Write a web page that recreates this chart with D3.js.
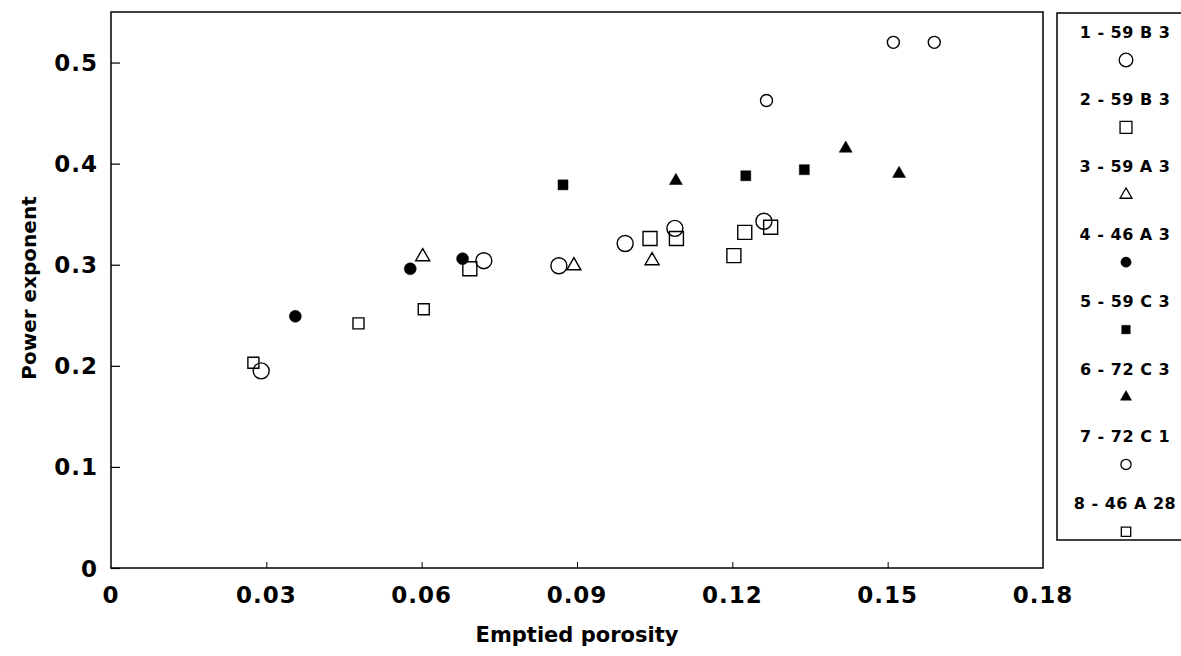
<!DOCTYPE html>
<html>
<head>
<meta charset="utf-8">
<script src="https://cdn.jsdelivr.net/npm/d3@7"></script>
<style>
  body { margin: 0; background: #fff; }
  svg { display: block; }
  text { font-family: "DejaVu Sans", sans-serif; font-weight: bold; fill: #000; }
</style>
</head>
<body>
<svg id="chart" width="1181" height="656"></svg>
<script>
// Series labels as printed in the legend
const seriesLabels = ["1 - 59 B 3", "2 - 59 B 3", "3 - 59 A 3", "4 - 46 A 3",
                      "5 - 59 C 3", "6 - 72 C 3", "7 - 72 C 1", "8 - 46 A 28"];

// Emptied porosity (x) per series
const porosity = [
    [0.029, 0.072, 0.0865, 0.0993, 0.1089, 0.1261],
    [0.0693, 0.1041, 0.1092, 0.1203, 0.1224, 0.1274],
    [0.0602, 0.0894, 0.1045],
    [0.0356, 0.0578, 0.0679],
    [0.0873, 0.1226, 0.1339],
    [0.1091, 0.1419, 0.1522],
    [0.1266, 0.1511, 0.159],
    [0.0275, 0.0478, 0.0604]
];

// Power exponent (y) per series
const exponent = [
    [0.195, 0.304, 0.299, 0.321, 0.336, 0.343],
    [0.296, 0.326, 0.326, 0.309, 0.332, 0.337],
    [0.308, 0.299, 0.304],
    [0.249, 0.296, 0.306],
    [0.379, 0.388, 0.394],
    [0.383, 0.415, 0.390],
    [0.4625, 0.520, 0.520],
    [0.203, 0.242, 0.256]
];

const xTicks = [0, 0.03, 0.06, 0.09, 0.12, 0.15, 0.18];
const yTicks = [0, 0.1, 0.2, 0.3, 0.4, 0.5];

// marker style for each series: shape, filled, size in px
const markers = [
    {shape: "circle", fill: false, size: 16},
    {shape: "square", fill: false, size: 14},
    {shape: "triangle", fill: false, size: 14},
    {shape: "circle", fill: true, size: 12},
    {shape: "square", fill: true, size: 10},
    {shape: "triangle", fill: true, size: 13},
    {shape: "circle", fill: false, size: 12},
    {shape: "square", fill: false, size: 11}
];

function markerPath(m, scale) {
    let s = m.size * scale;
    let type, area;
    if (m.shape == "circle") { type = d3.symbolCircle; area = Math.PI * (s/2) * (s/2); }
    else if (m.shape == "square") { type = d3.symbolSquare; area = s * s; }
    else { type = d3.symbolTriangle; area = Math.sqrt(3) / 4 * s * s; }
    return d3.symbol().type(type).size(area)();
}

let svg = d3.select("#chart");

let x = d3.scaleLinear().domain([0, 0.18]).range([111, 1043]);
let y = d3.scaleLinear().domain([0, 0.55]).range([568, 12]);

// Plot frame
svg.append("rect")
    .attr("x", x(0)).attr("y", y(0.55))
    .attr("width", x(0.18) - x(0)).attr("height", y(0) - y(0.55))
    .style("fill", "none").style("stroke", "#000").style("stroke-width", 1.5);

// Y axis ticks (inward) and labels
svg.append("g")
    .attr("transform", "translate(" + x(0) + ",0)")
    .call(d3.axisRight(y).tickValues(yTicks).tickSize(9).tickFormat(""))
    .call(g => g.select(".domain").remove())
    .selectAll("line").style("stroke-width", 1.2);

svg.selectAll(".ylabel").data(yTicks)
    .enter().append("text")
    .attr("class", "ylabel")
    .attr("x", 98)
    .attr("y", d => y(d) + 2)
    .attr("text-anchor", "end")
    .attr("dominant-baseline", "middle")
    .style("font-size", "23px")
    .style("letter-spacing", "1px")
    .text(d => d == 0 ? "0" : d3.format(".1f")(d));

// X axis ticks (inward) and labels
svg.append("g")
    .attr("transform", "translate(0," + y(0) + ")")
    .call(d3.axisTop(x).tickValues(xTicks.slice(1, -1)).tickSize(6).tickFormat(""))
    .call(g => g.select(".domain").remove())
    .selectAll("line").style("stroke-width", 1);

svg.selectAll(".xlabel").data(xTicks)
    .enter().append("text")
    .attr("class", "xlabel")
    .attr("x", d => x(d))
    .attr("y", 596)
    .attr("text-anchor", "middle")
    .attr("dominant-baseline", "middle")
    .style("font-size", "23px")
    .style("letter-spacing", "1px")
    .text(d => d == 0 ? "0" : d3.format(".2f")(d));

// Axis titles
svg.append("text")
    .attr("x", (x(0) + x(0.18)) / 2)
    .attr("y", 636)
    .attr("text-anchor", "middle")
    .attr("dominant-baseline", "middle")
    .style("font-size", "21px")
    .text("Emptied porosity");

svg.append("text")
    .attr("transform", "translate(30," + 288 + ") rotate(-90)")
    .attr("text-anchor", "middle")
    .attr("dominant-baseline", "middle")
    .style("font-size", "20px")
    .text("Power exponent");

// Data points
let points = [];
porosity.forEach(function(xs, i) {
    xs.forEach(function(v, j) { points.push({s: i, x: v, y: exponent[i][j]}); });
});

svg.selectAll(".pt").data(points)
    .enter().append("path")
    .attr("class", "pt")
    .attr("transform", d => "translate(" + x(d.x) + "," + y(d.y) + ")")
    .attr("d", d => markerPath(markers[d.s], 1))
    .style("fill", d => markers[d.s].fill ? "#000" : "#fff")
    .style("fill-opacity", d => markers[d.s].fill ? 1 : 0)
    .style("stroke", "#000")
    .style("stroke-width", d => markers[d.s].fill ? 0.5 : 1.4);

// Legend
let legend = svg.append("g");
legend.append("rect")
    .attr("x", 1057).attr("y", 13)
    .attr("width", 140).attr("height", 527)
    .style("fill", "none").style("stroke", "#000").style("stroke-width", 1.5);

let items = legend.selectAll(".item").data(seriesLabels)
    .enter().append("g")
    .attr("class", "item")
    .attr("transform", (d, i) => "translate(1125," + (33 + i * 67.4) + ")");

items.append("text")
    .attr("text-anchor", "middle")
    .attr("dominant-baseline", "middle")
    .style("font-size", "16px")
    .style("letter-spacing", "0.5px")
    .text(d => d);

items.append("path")
    .attr("transform", "translate(1,27)")
    .attr("d", (d, i) => markerPath(markers[i], 0.85))
    .style("fill", (d, i) => markers[i].fill ? "#000" : "#fff")
    .style("stroke", "#000")
    .style("stroke-width", (d, i) => markers[i].fill ? 0.5 : 1.3);
</script>
</body>
</html>
